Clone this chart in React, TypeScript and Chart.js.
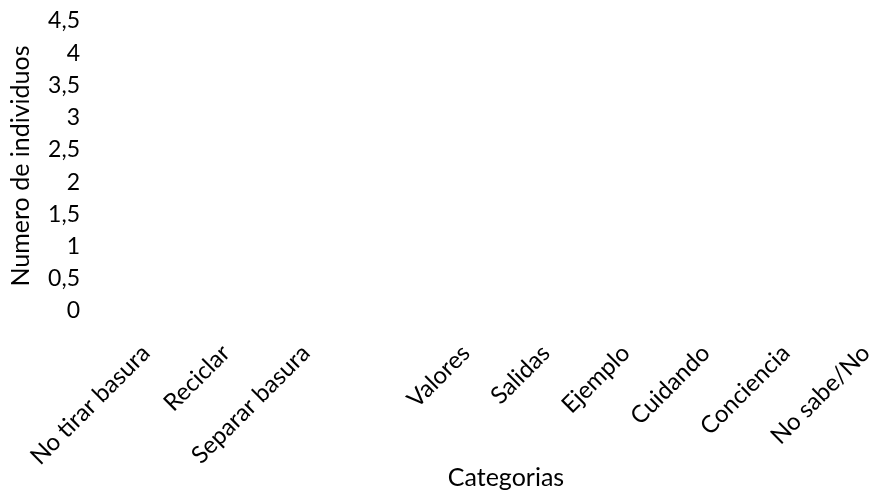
import React, { useEffect, useRef } from "react";
import { Chart, registerables } from "chart.js";

Chart.register(...registerables);

const categories = [
  "No tirar basura",
  "Reciclar",
  "Separar basura",
  "",
  "Valores",
  "Salidas",
  "Ejemplo",
  "Cuidando",
  "Conciencia",
  "No sabe/No",
];
const individuos = [0, 0, 0, 0, 0, 0, 0, 0, 0, 0];
const yMin = 0;
const yMax = 4.5;
const yStep = 0.5;

const FONT = "Lato, 'Noto Sans', sans-serif";

export default function App() {
  const ref = useRef<HTMLCanvasElement | null>(null);
  useEffect(() => {
    if (!ref.current) return;
    const chart = new Chart(ref.current, {
      type: "bar",
      data: {
        labels: categories,
        datasets: [
          {
            label: "Numero de individuos",
            data: individuos,
            backgroundColor: "#4472C4",
          },
        ],
      },
      options: {
        responsive: false,
        animation: false,
        layout: { padding: { top: 21, left: 0, right: 0, bottom: 0 } },
        plugins: { legend: { display: false }, tooltip: { enabled: false } },
        scales: {
          x: {
            grid: { display: false, drawTicks: false },
            border: { display: false },
            ticks: {
              color: "#000",
              font: { family: FONT, size: 24 },
              maxRotation: 45,
              minRotation: 45,
              autoSkip: false,
              padding: 28,
            },
            title: {
              display: true,
              text: "Categorias",
              color: "#000",
              font: { family: FONT, size: 25 },
              padding: { top: 0, bottom: 0 },
            },
            afterFit: (s: any) => {
              s.height = 182;
              s.paddingLeft = 0;
              s.paddingRight = 0;
            },
          },
          y: {
            min: yMin,
            max: yMax,
            grid: { display: false, drawTicks: false },
            border: { display: false },
            ticks: {
              stepSize: yStep,
              autoSkip: false,
              color: "#000",
              font: { family: FONT, size: 23 },
              padding: 26,
              callback: (v: any) => String(v).replace(".", ","),
            },
            title: {
              display: true,
              text: "Numero de individuos",
              color: "#000",
              font: { family: FONT, size: 25 },
              padding: { top: 6, bottom: 0 },
            },
            afterFit: (s: any) => {
              s.width = 106;
              s.paddingTop = 0;
              s.paddingBottom = 0;
            },
          },
        },
      },
    });
    return () => chart.destroy();
  }, []);
  return (
    <div
      style={{
        position: "fixed",
        left: 0,
        top: 0,
        width: 869,
        height: 493,
        overflow: "hidden",
        background: "#fff",
      }}
    >
      <canvas ref={ref} width={906} height={493} style={{ display: "block" }} />
    </div>
  );
}
